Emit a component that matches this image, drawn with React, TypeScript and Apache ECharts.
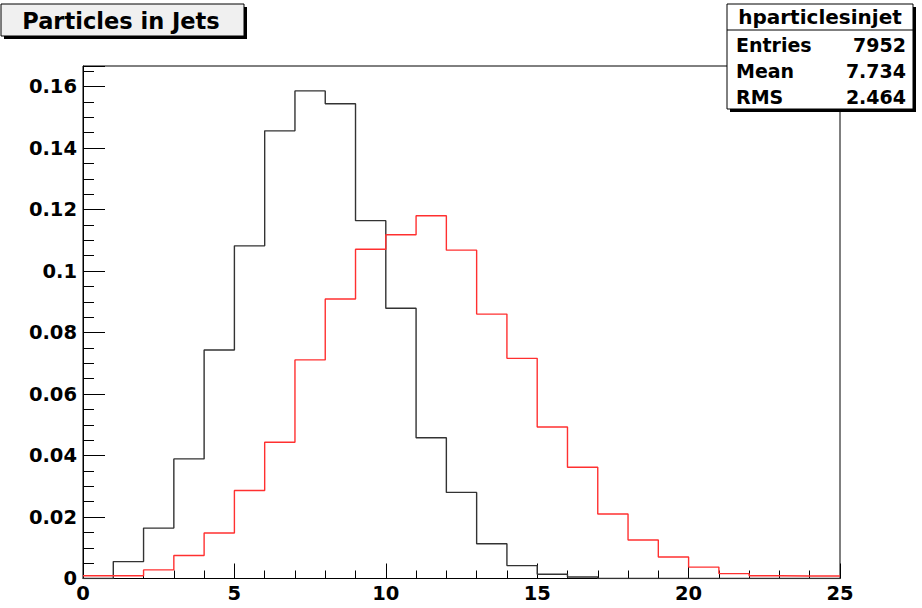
import React, { useEffect, useRef } from "react";
import * as echarts from "echarts";

// Bin lower edges 0..24 (width 1)
const binEdges = [0, 1, 2, 3, 4, 5, 6, 7, 8, 9, 10, 11, 12, 13, 14, 15, 16, 17, 18, 19, 20, 21, 22, 23, 24, 25];
const blackValues = [0.0, 0.0055, 0.0164, 0.0389, 0.0743, 0.1082, 0.1456, 0.1586, 0.1544, 0.1164, 0.0879, 0.0458, 0.028, 0.0113, 0.0042, 0.0014, 0.0005, 0, 0, 0, 0, 0, 0, 0, 0];
const redValues = [0.0009, 0.0009, 0.0028, 0.0075, 0.0148, 0.0286, 0.0443, 0.0711, 0.0909, 0.1071, 0.1118, 0.118, 0.1068, 0.086, 0.0716, 0.0493, 0.0362, 0.021, 0.0125, 0.007, 0.0037, 0.0016, 0.0009, 0.0008, 0.0008];
const titleText = "Particles in Jets";
const statsName = "hparticlesinjet";
const statsLabels = ["Entries", "Mean", "RMS"];
const statsValues = ["7952", "7.734", "2.464"];

const FONT = "'DejaVu Sans', sans-serif";

function stepData(vals: number[]) {
  const d: number[][] = vals.map((v, i) => [binEdges[i], v]);
  d.push([binEdges[vals.length], vals[vals.length - 1]]);
  return d;
}

export default function App() {
  const ref = useRef<HTMLDivElement>(null);
  useEffect(() => {
    if (!ref.current) return;
    const chart = echarts.init(ref.current, null, { renderer: "svg" });
    const statsX = 727, statsY = 4, statsW = 186, statsH = 105;
    const rowYs = [45, 71, 97];
    const graphics: any[] = [
      // title box shadow + box
      { type: "rect", z: 100, shape: { x: 4, y: 7, width: 243, height: 32 }, style: { fill: "#000" } },
      { type: "rect", z: 101, shape: { x: 1, y: 4, width: 243, height: 32 }, style: { fill: "#f0f0f0", stroke: "#000", lineWidth: 1 } },
      { type: "text", z: 102, x: 121, y: 21, style: { text: titleText, fontFamily: FONT, fontWeight: "bold", fontSize: 22.5, fill: "#000", align: "center", verticalAlign: "middle" } },
      // stats box
      { type: "rect", z: 100, shape: { x: statsX + 3, y: statsY + 3, width: statsW, height: statsH }, style: { fill: "#000" } },
      { type: "rect", z: 101, shape: { x: statsX, y: statsY, width: statsW, height: statsH }, style: { fill: "#fff", stroke: "#000", lineWidth: 1 } },
      { type: "line", z: 102, shape: { x1: statsX, y1: 30, x2: statsX + statsW, y2: 30 }, style: { stroke: "#000", lineWidth: 1 } },
      { type: "text", z: 102, x: statsX + statsW / 2, y: 17, style: { text: statsName, fontFamily: FONT, fontWeight: "bold", fontSize: 20, fill: "#000", align: "center", verticalAlign: "middle" } },
    ];
    statsLabels.forEach((lab, i) => {
      graphics.push({ type: "text", z: 102, x: 736, y: rowYs[i], style: { text: lab, fontFamily: FONT, fontWeight: "bold", fontSize: 19, fill: "#000", align: "left", verticalAlign: "middle" } });
      graphics.push({ type: "text", z: 102, x: 906, y: rowYs[i], style: { text: statsValues[i], fontFamily: FONT, fontWeight: "bold", fontSize: 19, fill: "#000", align: "right", verticalAlign: "middle" } });
    });

    chart.setOption({
      animation: false,
      backgroundColor: "#fff",
      grid: { left: 83, top: 66, width: 757, height: 512.5, show: true, borderColor: "#000", borderWidth: 1, backgroundColor: "transparent" },
      xAxis: {
        type: "value",
        min: 0,
        max: 25,
        interval: 5,
        axisLine: { show: true, onZero: false, lineStyle: { color: "#000", width: 1 } },
        axisTick: { show: true, inside: true, length: 15, lineStyle: { color: "#000" } },
        minorTick: { show: true, splitNumber: 5, length: 8, lineStyle: { color: "#000" } },
        splitLine: { show: false },
        axisLabel: { color: "#000", fontFamily: FONT, fontWeight: "bold", fontSize: 19.5, margin: 5, showMaxLabel: true },
      },
      yAxis: {
        type: "value",
        min: 0,
        max: 0.1667,
        interval: 0.02,
        axisLine: { show: true, onZero: false, lineStyle: { color: "#000", width: 1 } },
        axisTick: { show: true, inside: true, length: 22, lineStyle: { color: "#000" } },
        minorTick: { show: true, splitNumber: 4, length: 11, lineStyle: { color: "#000" } },
        splitLine: { show: false },
        axisLabel: {
          color: "#000",
          fontFamily: FONT,
          fontWeight: "bold",
          fontSize: 19.5,
          margin: 6,
          formatter: (v: number) => {
            const k = Math.round(v / 0.02);
            if (Math.abs(v - k * 0.02) > 1e-6) return "";
            return String(+(k * 0.02).toFixed(2));
          },
        },
      },
      series: [
        {
          type: "line",
          step: "end",
          symbol: "none",
          data: stepData(blackValues),
          lineStyle: { color: "#333", width: 1.4 },
          z: 3,
        },
        {
          type: "line",
          step: "end",
          symbol: "none",
          data: stepData(redValues),
          lineStyle: { color: "#ff3030", width: 1.4 },
          z: 4,
        },
      ],
      graphic: graphics,
    });
    return () => chart.dispose();
  }, []);
  return <div ref={ref} style={{ position: "fixed", left: 0, top: 0, width: 922, height: 608 }} />;
}
